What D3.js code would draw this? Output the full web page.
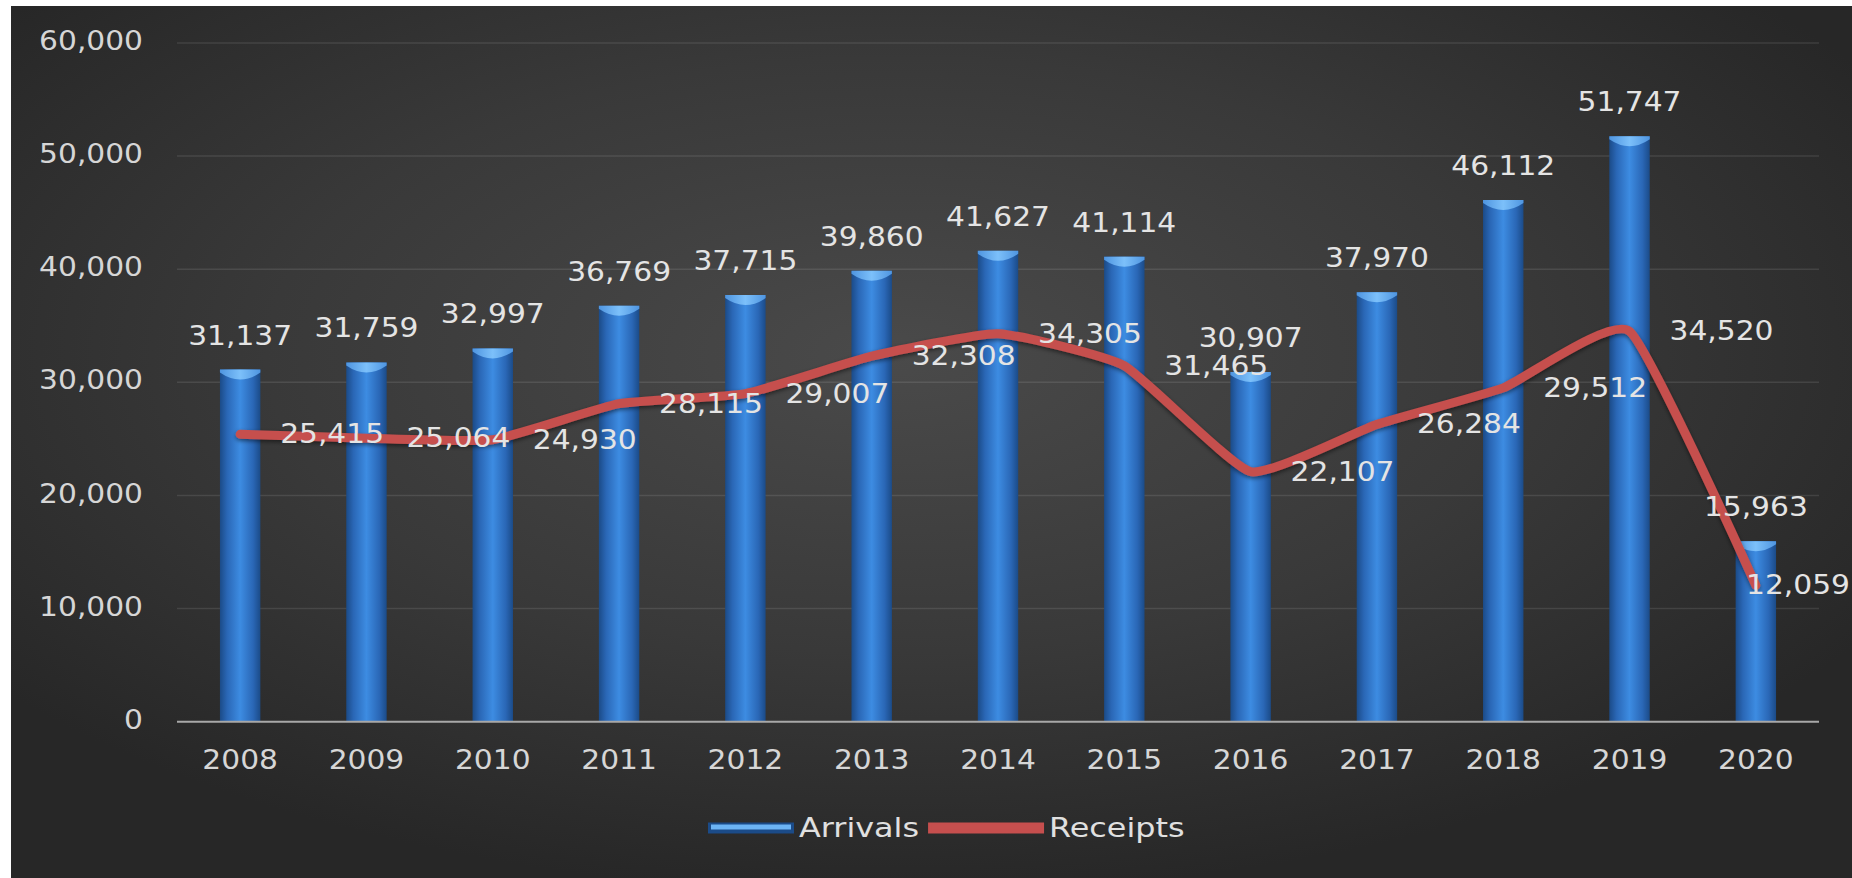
<!DOCTYPE html>
<html>
<head>
<meta charset="utf-8">
<script src="https://cdn.jsdelivr.net/npm/d3@7"></script>
<style>
  html, body { margin: 0; padding: 0; background: #ffffff; }
  svg { display: block; }
  text { font-family: "DejaVu Sans", sans-serif; }
</style>
</head>
<body>
<svg id="chart" width="1852" height="878"></svg>
<script>
// Tourism arrivals and receipts, 2008-2020
const years = ["2008","2009","2010","2011","2012","2013","2014","2015","2016","2017","2018","2019","2020"];
const arrivals = [31137, 31759, 32997, 36769, 37715, 39860, 41627, 41114, 30907, 37970, 46112, 51747, 15963];
const receipts = [25415, 25064, 24930, 28115, 29007, 32308, 34305, 31465, 22107, 26284, 29512, 34520, 12059];
const yTicks = [0, 10000, 20000, 30000, 40000, 50000, 60000];
const seriesNames = ["Arrivals", "Receipts"];

const W = 1852, H = 878;
const SX = 1.1;           // horizontal stretch applied to all text
const FONT = 27;
const fmt = d3.format(",");

const svg = d3.select("#chart");
const defs = svg.append("defs");

// background: dark radial fill inside a thin white margin
const bg = defs.append("radialGradient").attr("id", "bg")
  .attr("cx", "48%").attr("cy", "40%").attr("r", "62%");
bg.append("stop").attr("offset", "0%").attr("stop-color", "#4a4a4a");
bg.append("stop").attr("offset", "55%").attr("stop-color", "#393939");
bg.append("stop").attr("offset", "100%").attr("stop-color", "#272727");
svg.append("rect").attr("x", 11).attr("y", 6).attr("width", W - 11).attr("height", H - 6).attr("fill", "url(#bg)");

// column body gradient (cylinder look)
const barGrad = defs.append("linearGradient").attr("id", "barGrad").attr("x1", "0%").attr("x2", "100%");
[["0%", "#1b4b88"], ["18%", "#2a67b6"], ["50%", "#3d8ce2"], ["82%", "#2a67b6"], ["100%", "#1b4b88"]]
  .forEach(([o, c]) => barGrad.append("stop").attr("offset", o).attr("stop-color", c));
const capGrad = defs.append("linearGradient").attr("id", "capGrad").attr("x1", "0%").attr("x2", "100%");
[["0%", "#4f95e0"], ["50%", "#7cc0fa"], ["100%", "#4f95e0"]]
  .forEach(([o, c]) => capGrad.append("stop").attr("offset", o).attr("stop-color", c));

const shadow = defs.append("filter").attr("id", "shadow").attr("x", "-10%").attr("y", "-10%").attr("width", "120%").attr("height", "130%");
shadow.append("feDropShadow").attr("dx", 0).attr("dy", 2).attr("stdDeviation", 2).attr("flood-color", "#000").attr("flood-opacity", 0.5);

const plot = { left: 177, right: 1819, top: 43, bottom: 721.7 };

const x = d3.scaleBand().domain(years).range([plot.left, plot.right]).padding(0);
const y = d3.scaleLinear().domain([0, 60000]).range([plot.bottom, plot.top]);
const barW = x.bandwidth() * 0.32;
const cx = d => x(d) + x.bandwidth() / 2;

function place(sel, fx, fy) {
  return sel.attr("transform", (d, i) => `translate(${fx(d, i)},${fy(d, i)}) scale(${SX},1)`);
}

// gridlines
svg.append("g").selectAll("line").data(yTicks.filter(t => t > 0)).join("line")
  .attr("x1", plot.left).attr("x2", plot.right)
  .attr("y1", d => y(d)).attr("y2", d => y(d))
  .attr("stroke", "#ffffff").attr("stroke-opacity", 0.1).attr("stroke-width", 1.5);

// y axis labels
place(svg.append("g").selectAll("text").data(yTicks).join("text")
  .attr("text-anchor", "end").attr("dominant-baseline", "central")
  .attr("font-size", FONT).attr("fill", "#d6d6d6")
  .text(d => fmt(d)), () => 143, d => y(d) - 2);

// columns
const bars = svg.append("g").selectAll("g").data(years.map((yr, i) => ({ yr, v: arrivals[i] }))).join("g");
bars.append("rect")
  .attr("x", d => cx(d.yr) - barW / 2).attr("width", barW)
  .attr("y", d => y(d.v)).attr("height", d => y(0) - y(d.v))
  .attr("fill", "url(#barGrad)");
bars.append("path")
  .attr("d", d => {
    const x0 = cx(d.yr) - barW / 2, x1 = cx(d.yr) + barW / 2, t = y(d.v);
    return `M${x0},${t} L${x1},${t} L${x1},${t + 3} Q${cx(d.yr)},${t + 17} ${x0},${t + 3} Z`;
  })
  .attr("fill", "url(#capGrad)");

// x axis line
svg.append("line").attr("x1", plot.left).attr("x2", plot.right)
  .attr("y1", y(0)).attr("y2", y(0)).attr("stroke", "#a8a8a8").attr("stroke-width", 2);

// x axis labels
place(svg.append("g").selectAll("text").data(years).join("text")
  .attr("text-anchor", "middle").attr("dominant-baseline", "central")
  .attr("font-size", FONT).attr("fill", "#d6d6d6")
  .text(d => d), d => cx(d), () => 760);

// receipts line (lightly smoothed)
const line = d3.line().x((d, i) => cx(years[i])).y(d => y(d)).curve(d3.curveCardinal.tension(0.55));
svg.append("path").datum(receipts)
  .attr("d", line).attr("fill", "none")
  .attr("stroke", "#c64f4e").attr("stroke-width", 9)
  .attr("stroke-linejoin", "round").attr("stroke-linecap", "round")
  .attr("filter", "url(#shadow)");

// arrivals value labels above the columns
place(svg.append("g").selectAll("text").data(arrivals).join("text")
  .attr("text-anchor", "middle").attr("dominant-baseline", "central")
  .attr("font-size", FONT).attr("fill", "#e4e4e4")
  .text(d => fmt(d)), (d, i) => cx(years[i]), d => y(d) - 34);

// receipts value labels to the right of each point
const rLabels = svg.append("g").selectAll("text").data(receipts).join("text")
  .attr("text-anchor", "start").attr("dominant-baseline", "central")
  .attr("font-size", FONT).attr("fill", "#e4e4e4")
  .text(d => fmt(d));
rLabels.each(function (d, i) {
  const w = this.getComputedTextLength() * SX;
  let lx = cx(years[i]) + 40;
  if (lx + w > W - 2) lx = W - 2 - w;
  d3.select(this).attr("transform", `translate(${lx},${y(d)}) scale(${SX},1)`);
});

// legend
const legend = svg.append("g");
const legY = 828;
const LSX = 1.18;
const legendItems = [
  { name: seriesNames[0], color: "#3d8ce2", edge: "#1b4b88", len: 86 },
  { name: seriesNames[1], color: "#c64f4e", edge: "#c64f4e", len: 116 }
];
let lx = 708;
legendItems.forEach((it, i) => {
  legend.append("line").attr("x1", lx).attr("x2", lx + it.len)
    .attr("y1", legY).attr("y2", legY)
    .attr("stroke", it.edge).attr("stroke-width", 11);
  legend.append("line").attr("x1", lx + 3).attr("x2", lx + it.len - 3)
    .attr("y1", legY - 1).attr("y2", legY - 1)
    .attr("stroke", i === 0 ? "#6cb4f5" : it.color).attr("stroke-width", 5);
  const t = legend.append("text")
    .attr("dominant-baseline", "central").attr("font-size", FONT).attr("fill", "#e0e0e0")
    .attr("transform", `translate(${lx + it.len + 5},${legY}) scale(${LSX},1)`)
    .text(it.name);
  lx += it.len + 5 + t.node().getComputedTextLength() * LSX + 9;
});
</script>
</body>
</html>
